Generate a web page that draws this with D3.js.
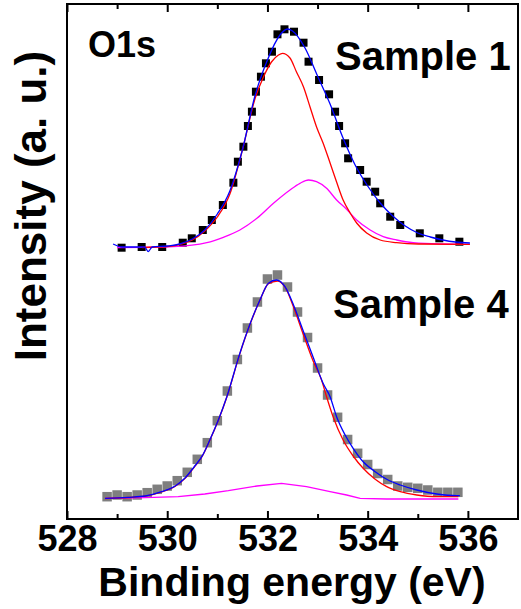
<!DOCTYPE html>
<html>
<head>
<meta charset="utf-8">
<script src="https://cdn.jsdelivr.net/npm/d3@7"></script>
<style>
  body { margin: 0; background: #fff; }
  svg { display: block; }
</style>
</head>
<body>
<svg id="chart" width="521" height="609"></svg>
<script>
// Sample 1 measured points (black squares)
const s1Energy = [529.09, 529.49, 529.90, 530.31, 530.49, 530.71, 530.89, 531.11, 531.32, 531.41,
  531.52, 531.61, 531.69, 531.77, 531.87, 531.97, 532.09, 532.20, 532.34, 532.53,
  532.72, 532.82, 533.03, 533.23, 533.35, 533.43, 533.55, 533.61, 533.85, 533.98,
  534.15, 534.25, 534.45, 534.65, 535.04, 535.43, 535.83];
const s1Counts = [2713, 2720, 2720, 2763, 2807, 2890, 2990, 3140, 3363, 3573,
  3723, 3930, 4073, 4273, 4423, 4557, 4673, 4847, 4897, 4873,
  4763, 4573, 4390, 4247, 4073, 3930, 3757, 3607, 3490, 3373,
  3273, 3157, 3023, 2940, 2857, 2807, 2773];

// Sample 1 fit: envelope (blue), main peak (red), second peak (magenta)
const s1FitEnergy = [528.92, 529.1, 529.55, 529.62, 529.7, 530.0, 530.25, 530.5, 530.75, 531.0,
  531.25, 531.5, 531.75, 532.0, 532.25, 532.4, 532.5, 532.75, 533.0, 533.25,
  533.5, 533.75, 534.0, 534.25, 534.5, 534.75, 535.0, 535.25, 535.5, 535.75, 536.04];
const s1FitTotal = [2750, 2720, 2720, 2675, 2720, 2730, 2750, 2800, 2890, 3050,
  3280, 3690, 4230, 4590, 4840, 4900, 4880, 4710, 4430, 4150,
  3820, 3540, 3330, 3160, 3030, 2930, 2860, 2820, 2790, 2770, 2760];
const s1PeakAEnergy = [529.5, 530.0, 530.25, 530.5, 530.75, 531.0, 531.25, 531.5, 531.75, 531.92,
  532.08, 532.22, 532.3, 532.45, 532.58, 532.72, 532.85, 532.98, 533.11, 533.25,
  533.38, 533.51, 533.65, 533.78, 533.98, 534.25, 534.58, 535.01, 536.04];
const s1PeakA = [2715, 2725, 2745, 2790, 2880, 3020, 3250, 3690, 4200, 4420,
  4570, 4640, 4657, 4610, 4470, 4320, 4120, 3920, 3760, 3560,
  3370, 3190, 3060, 2960, 2860, 2790, 2763, 2750, 2747];
const s1PeakBEnergy = [529.0, 529.56, 530.12, 530.79, 531.12, 531.45, 531.79, 532.12, 532.45, 532.65,
  532.82, 532.98, 533.18, 533.38, 533.58, 533.78, 534.05, 534.31, 534.58, 534.91, 535.44, 536.04];
const s1PeakB = [2715, 2717, 2723, 2763, 2817, 2890, 3007, 3157, 3290, 3357,
  3390, 3373, 3307, 3190, 3097, 2990, 2890, 2823, 2790, 2763, 2750, 2747];

// Sample 4 measured points (grey squares)
const s4Energy = [528.8, 529.0, 529.2, 529.4, 529.6, 529.8, 530.0, 530.2, 530.4, 530.6,
  530.8, 531.0, 531.2, 531.4, 531.6, 531.8, 532.0, 532.2, 532.4, 532.6,
  532.8, 533.0, 533.2, 533.4, 533.6, 533.8, 534.0, 534.2, 534.4, 534.6,
  534.8, 535.0, 535.2, 535.4, 535.6, 535.8];
const s4Counts = [223, 240, 223, 240, 263, 297, 330, 383, 467, 597,
  763, 983, 1280, 1595, 1910, 2170, 2400, 2440, 2320, 2070,
  1815, 1510, 1240, 1017, 795, 657, 545, 455, 395, 330,
  317, 307, 290, 267, 267, 267];

// Sample 4 fit
const s4FitEnergy = [528.76, 529.22, 529.56, 529.89, 530.16, 530.35, 530.55, 530.69, 530.85, 531.02,
  531.19, 531.45, 531.65, 531.85, 532.02, 532.18, 532.35, 532.52, 532.72, 532.92,
  533.11, 533.25, 533.38, 533.55, 533.71, 533.91, 534.15, 534.38, 534.65, 534.98,
  535.38, 535.78, 535.84];
const s4FitTotal = [207, 217, 230, 273, 330, 407, 530, 623, 790, 990,
  1223, 1657, 1947, 2190, 2357, 2390, 2323, 2140, 1873, 1607,
  1357, 1223, 1023, 840, 707, 573, 473, 397, 340, 290,
  250, 233, 233];
const s4PeakAEnergy = [528.76, 529.22, 529.56, 529.89, 530.16, 530.35, 530.55, 530.69, 530.85, 531.02,
  531.19, 531.45, 531.65, 531.85, 532.02, 532.2, 532.35, 532.52, 532.72, 532.92,
  533.08, 533.18, 533.31, 533.51, 533.71, 533.91, 534.15, 534.38, 534.65, 534.98,
  535.38, 535.81];
const s4PeakA = [205, 215, 228, 270, 327, 404, 527, 620, 787, 987,
  1220, 1654, 1944, 2187, 2354, 2380, 2320, 2120, 1840, 1570,
  1390, 1223, 1023, 790, 630, 507, 397, 323, 273, 240,
  223, 223];
const s4PeakBEnergy = [528.76, 529.56, 530.22, 530.75, 531.22, 531.79, 532.28, 532.78, 533.25, 533.58,
  533.85, 534.38, 535.81];
const s4PeakB = [207, 213, 223, 250, 283, 330, 357, 323, 273, 240, 207, 200, 200];

const majorTicks = [528, 530, 532, 534, 536];
const minorTicks = [529, 531, 533, 535];

const FONT = "'Liberation Sans', Arial, sans-serif";
const frame = { left: 67, right: 518, top: 4, bottom: 519 };

const svg = d3.select('#chart');

const x = d3.scaleLinear().domain([528, 537]).range([frame.left, frame.right]);
const y = d3.scaleLinear().domain([0, 5150]).range([frame.bottom, frame.top]);

const zip = (xs, ys) => xs.map((e, i) => [e, ys[i]]);

const smooth = d3.line()
  .curve(d3.curveMonotoneX)
  .x(d => x(d[0]))
  .y(d => y(d[1]));
const straight = d3.line()
  .x(d => x(d[0]))
  .y(d => y(d[1]));

const squares = (data, size, fill) => {
  svg.append('g')
    .selectAll('rect')
    .data(data)
    .enter()
    .append('rect')
    .attr('x', d => x(d[0]) - size / 2)
    .attr('y', d => y(d[1]) - size / 2)
    .attr('width', size)
    .attr('height', size)
    .attr('fill', fill);
};

const curve = (data, color, gen) => {
  svg.append('path')
    .attr('d', gen(data))
    .attr('fill', 'none')
    .attr('stroke', color)
    .attr('stroke-width', 1.3);
};

squares(zip(s1Energy, s1Counts), 8, '#000');
squares(zip(s4Energy, s4Counts), 9.5, '#7f7f7f');

curve(zip(s1PeakBEnergy, s1PeakB), '#ff00ff', smooth);
curve(zip(s1PeakAEnergy, s1PeakA), '#ff0000', smooth);
curve(zip(s1FitEnergy, s1FitTotal), '#0000ff', smooth);

curve(zip(s4PeakBEnergy, s4PeakB), '#ff00ff', straight);
curve(zip(s4PeakAEnergy, s4PeakA), '#ff0000', smooth);
curve(zip(s4FitEnergy, s4FitTotal), '#0000ff', smooth);

// axes: ticks point inward on bottom and top, labels only at the bottom
const styleAxis = g => {
  g.select('.domain').remove();
  g.selectAll('line').attr('stroke', '#000').attr('stroke-width', 2);
};
const noText = g => g.selectAll('text').remove();

svg.append('g')
  .attr('transform', `translate(0,${frame.bottom})`)
  .call(d3.axisBottom(x).tickValues(majorTicks).tickSize(-8).tickFormat(d3.format('d')))
  .call(styleAxis)
  .call(g => g.selectAll('text')
    .attr('y', 32)
    .attr('dy', null)
    .attr('fill', '#000')
    .attr('font-family', FONT)
    .attr('font-weight', 'bold')
    .attr('font-size', '36px'));

svg.append('g')
  .attr('transform', `translate(0,${frame.bottom})`)
  .call(d3.axisBottom(x).tickValues(minorTicks).tickSize(-5))
  .call(styleAxis)
  .call(noText);

svg.append('g')
  .attr('transform', `translate(0,${frame.top})`)
  .call(d3.axisTop(x).tickValues(majorTicks).tickSize(-8))
  .call(styleAxis)
  .call(noText);

svg.append('g')
  .attr('transform', `translate(0,${frame.top})`)
  .call(d3.axisTop(x).tickValues(minorTicks).tickSize(-5))
  .call(styleAxis)
  .call(noText);

svg.append('rect')
  .attr('x', frame.left)
  .attr('y', frame.top)
  .attr('width', frame.right - frame.left)
  .attr('height', frame.bottom - frame.top)
  .attr('fill', 'none')
  .attr('stroke', '#000')
  .attr('stroke-width', 2);

const label = (txt, px, py, size, anchor) => svg.append('text')
  .text(txt)
  .attr('x', px)
  .attr('y', py)
  .attr('font-family', FONT)
  .attr('font-weight', 'bold')
  .attr('font-size', size)
  .attr('text-anchor', anchor || 'start')
  .attr('fill', '#000');

label('O1s', 88, 57, '36px');
label('Sample 1', 335, 70, '40px');
label('Sample 4', 333, 318, '40px');
label('Binding energy (eV)', 292, 596, '41px', 'middle');
label('Intensity (a. u.)', 0, 0, '44px', 'middle')
  .attr('transform', 'translate(46,206) rotate(-90)');
</script>
</body>
</html>
